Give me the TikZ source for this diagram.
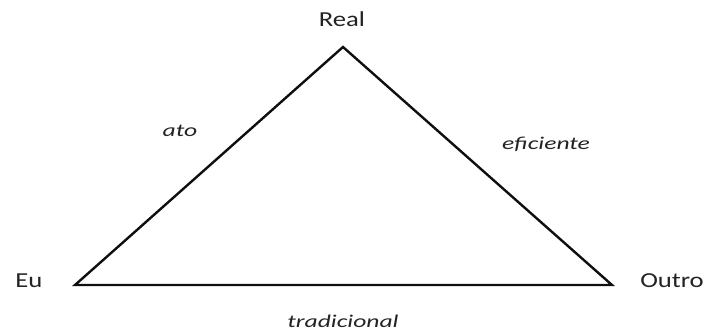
\documentclass[tikz,border=0pt]{standalone}
\usepackage{fontspec}
\setmainfont{Carlito}
\newfontfamily\vertexfont[FakeStretch=1.25]{Carlito}
\newfontfamily\sidefont[FakeStretch=1.42]{Carlito}
\usetikzlibrary{positioning,calc}
\definecolor{lineblack}{RGB}{15,15,15}
\definecolor{textgray}{RGB}{35,35,35}

\begin{document}
\begin{tikzpicture}[
  x=0.75pt, y=-0.75pt,
  vertex/.style={font=\vertexfont\fontsize{16}{18}\selectfont, text=textgray, inner sep=0pt},
  side/.style={font=\sidefont\fontsize{13.5}{15}\selectfont\itshape, text=textgray, inner sep=0pt, anchor=base},
  edge/.style={draw=lineblack, line width=1.8pt, line join=miter}
]
\useasboundingbox (0,0) rectangle (708,335);

% Corners
\coordinate (top) at (343,47);
\coordinate (left) at (75,285);
\coordinate (right) at (612,285);

% Triangle
\draw[edge] (left) -- (top) -- (right) -- cycle;

% Vertex labels
\node[vertex, anchor=base] (real) at (342,27) {Real};
\node[vertex, anchor=base west] (eu) at (15,287) {Eu};
\node[vertex, anchor=base west] (outro) at (640,287) {Outro};

% Side labels
\node[side] (ato) at (180,137) {ato};
\node[side] (eficiente) at (546,150) {eficiente};
\node[side] (tradicional) at (343,327) {tradicional};

\end{tikzpicture}
\end{document}
